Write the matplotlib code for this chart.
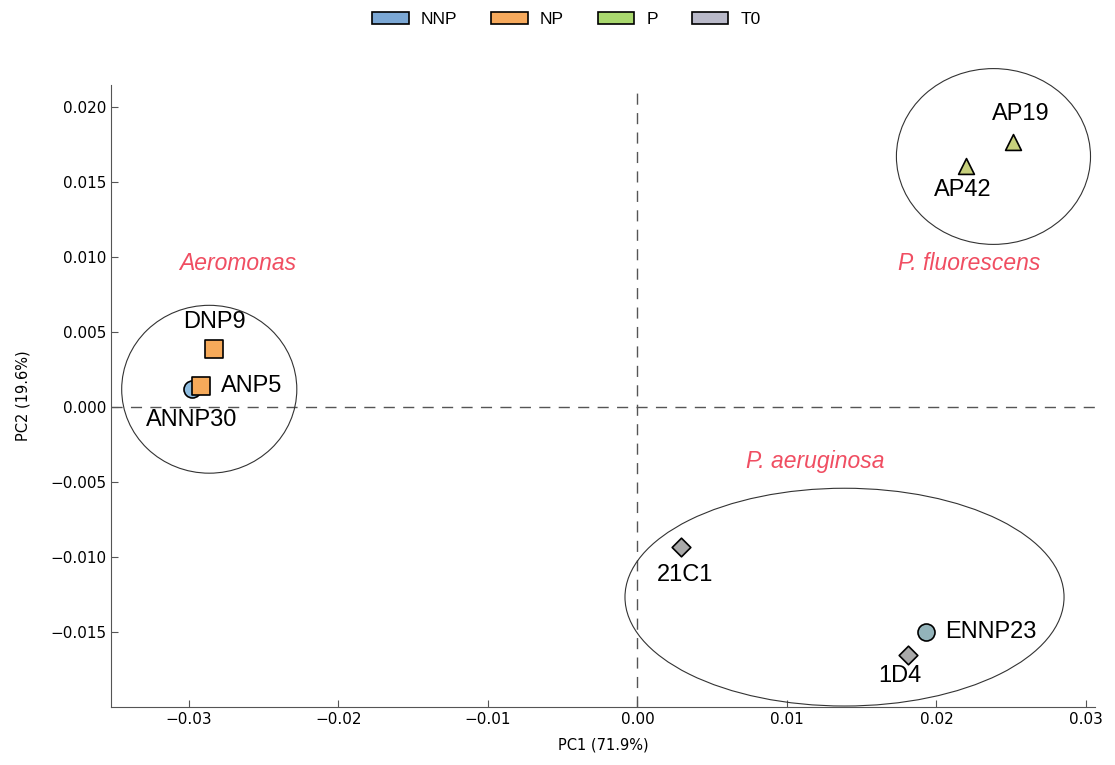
import matplotlib.pyplot as plt
from matplotlib.patches import Ellipse, Patch

# sample scores on the first two principal components
names = ["ANNP30", "ANP5", "DNP9", "AP19", "AP42", "21C1", "ENNP23", "1D4"]
groups = ["NNP", "NP", "NP", "P", "P", "T0", "NNP", "T0"]
pc1 = [-0.0298, -0.0292, -0.0283, 0.0251, 0.0220, 0.0029, 0.0193, 0.0181]
pc2 = [0.0012, 0.0014, 0.0039, 0.0177, 0.0161, -0.0093, -0.0150, -0.0165]

legend_groups = ["NNP", "NP", "P", "T0"]
legend_colors = ["#7ba7d4", "#f6a95c", "#a9d86e", "#b9b9c9"]

# cluster outlines: centre x, centre y, width, height
clusters = ["Aeromonas", "P. fluorescens", "P. aeruginosa"]
cl_x = [-0.02863, 0.02381, 0.01385]
cl_y = [0.0012, 0.01673, -0.01267]
cl_w = [0.01171, 0.01298, 0.02936]
cl_h = [0.0112, 0.01173, 0.01453]
cl_label_x = [-0.0267, 0.0222, 0.0119]
cl_label_y = [0.0096, 0.0096, -0.0036]

markers = {"ANNP30": "o", "ANP5": "s", "DNP9": "s", "AP19": "^", "AP42": "^",
           "21C1": "D", "ENNP23": "o", "1D4": "D"}
colors = {"ANNP30": "#8fbde0", "ANP5": "#f6aa5a", "DNP9": "#f6aa5a",
          "AP19": "#c7d07c", "AP42": "#c7d07c", "21C1": "#a9a9a9",
          "ENNP23": "#93b3ba", "1D4": "#a9a9a9"}
sizes = {"o": 150, "s": 150, "^": 130, "D": 90}
# label offsets in pixels and horizontal alignment
offsets = {"ANNP30": ((0, -31), "center"), "ANP5": ((20, 0), "left"),
           "DNP9": ((0, 27), "center"), "AP19": ((8, 28), "center"),
           "AP42": ((-4, -24), "center"), "21C1": ((4, -28), "center"),
           "ENNP23": ((19, 0), "left"), "1D4": ((-8, -21), "center")}

SANS = ["Liberation Sans", "DejaVu Sans"]

fig = plt.figure(figsize=(11.15, 7.65), dpi=100)
ax = fig.add_axes([111 / 1115, 58 / 765, 984 / 1115, 622 / 765])

ax.axvline(0, color="#555555", linestyle=(0, (8, 6)), linewidth=1.0, zorder=1)
ax.axhline(0, color="#555555", linestyle=(0, (8, 6)), linewidth=1.0, zorder=1)

for i in range(len(clusters)):
    e = Ellipse((cl_x[i], cl_y[i]), cl_w[i], cl_h[i], fill=False,
                edgecolor="#333333", linewidth=0.8, clip_on=False, zorder=2)
    ax.add_patch(e)
    ax.text(cl_label_x[i], cl_label_y[i], clusters[i], color="#f04e62",
            fontsize=16.5, style="italic", ha="center", va="center", family=SANS)

for i, n in enumerate(names):
    m = markers[n]
    ax.scatter(pc1[i], pc2[i], marker=m, s=sizes[m], c=colors[n],
               edgecolors="black", linewidths=1.2, zorder=3)
    off, ha = offsets[n]
    ax.annotate(n, (pc1[i], pc2[i]), xytext=off, textcoords="offset pixels",
                ha=ha, va="center", fontsize=17, family=SANS, zorder=4)

ax.set_xlim(-0.0352, 0.0306)
ax.set_ylim(-0.020, 0.0215)
ax.set_xticks([-0.03, -0.02, -0.01, 0.0, 0.01, 0.02, 0.03])
ax.set_xticklabels(["\u22120.03", "\u22120.02", "\u22120.01", "0.00", "0.01", "0.02", "0.03"])
ax.set_yticks([-0.015, -0.010, -0.005, 0.0, 0.005, 0.010, 0.015, 0.020])
ax.set_yticklabels(["\u22120.015", "\u22120.010", "\u22120.005", "0.000",
                    "0.005", "0.010", "0.015", "0.020"])
ax.tick_params(direction="in", length=5, labelsize=11, color="#555555")
ax.spines["top"].set_visible(False)
ax.spines["right"].set_visible(False)
ax.spines["left"].set_color("#555555")
ax.spines["bottom"].set_color("#555555")
ax.set_xlabel("PC1 (71.9%)", fontsize=10.5, labelpad=8)
ax.set_ylabel("PC2 (19.6%)", fontsize=10.5, labelpad=14)

handles = [Patch(facecolor=c, edgecolor="black", linewidth=1.2, label=g)
           for g, c in zip(legend_groups, legend_colors)]
fig.legend(handles=handles, loc="upper center", bbox_to_anchor=(0.508, 1.005),
           ncol=4, frameon=False, prop={"family": SANS, "size": 12.5},
           handlelength=2.1, handleheight=0.7, columnspacing=1.95, handletextpad=0.7)

fig.savefig("out.png", dpi=100)
